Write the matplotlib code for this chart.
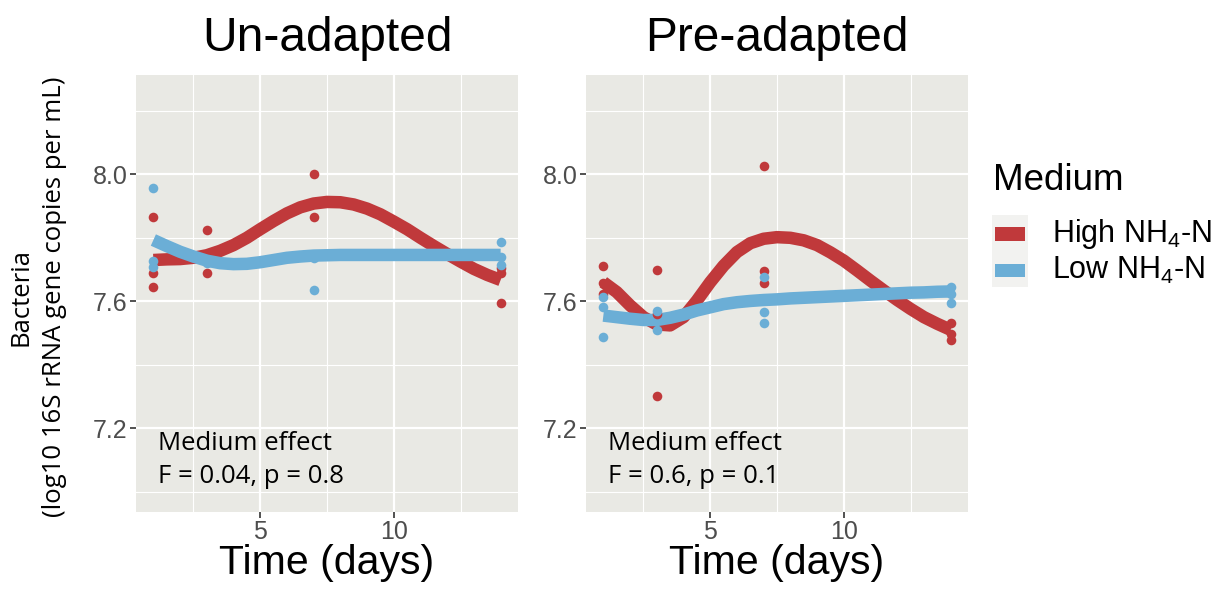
import matplotlib
matplotlib.use("Agg")
import matplotlib.pyplot as plt
from matplotlib.patches import Rectangle

plt.rcParams['font.family'] = ['Liberation Sans', 'DejaVu Sans']
plt.rcParams['mathtext.default'] = 'regular'

# Colours
RED = '#C0393B'
BLUE = '#6BAED6'
PANEL = '#E9E9E4'

# Observed points (day, log10 copies) - Un-adapted
un_high_days = [1, 1, 1, 3, 3, 7, 7, 14, 14, 14]
un_high_vals = [7.866, 7.688, 7.645, 7.824, 7.690, 8.000, 7.866, 7.704, 7.688, 7.596]
un_low_days = [1, 1, 1, 3, 7, 7, 14, 14, 14]
un_low_vals = [7.958, 7.727, 7.707, 7.720, 7.735, 7.636, 7.788, 7.739, 7.714]

# Pre-adapted
pre_high_days = [1, 1, 1, 3, 3, 3, 7, 7, 7, 14, 14, 14]
pre_high_vals = [7.712, 7.657, 7.623, 7.699, 7.560, 7.302, 8.027, 7.694, 7.657, 7.531, 7.497, 7.479]
pre_low_days = [1, 1, 1, 3, 3, 7, 7, 7, 14, 14, 14]
pre_low_vals = [7.615, 7.581, 7.487, 7.568, 7.508, 7.676, 7.566, 7.531, 7.644, 7.623, 7.595]

# Smoothed trend lines (every half day)
curve_days = [1, 1.5, 2, 2.5, 3, 3.5, 4, 4.5, 5, 5.5, 6, 6.5, 7, 7.5,
              8, 8.5, 9, 9.5, 10, 10.5, 11, 11.5, 12, 12.5, 13, 13.5, 14]
un_high_fit = [7.730, 7.732, 7.733, 7.737, 7.745, 7.759, 7.777, 7.800, 7.827,
               7.853, 7.877, 7.896, 7.908, 7.913, 7.912, 7.905, 7.892, 7.874,
               7.851, 7.827, 7.800, 7.774, 7.749, 7.725, 7.702, 7.683, 7.667]
un_low_fit = [7.793, 7.774, 7.756, 7.741, 7.728, 7.720, 7.717, 7.718, 7.723,
              7.730, 7.737, 7.741, 7.744, 7.745, 7.746, 7.746, 7.746, 7.746,
              7.746, 7.746, 7.746, 7.746, 7.746, 7.746, 7.746, 7.746, 7.746]
pre_high_fit = [7.660, 7.629, 7.587, 7.550, 7.527, 7.524, 7.550, 7.602, 7.660,
                7.712, 7.755, 7.783, 7.797, 7.802, 7.800, 7.792, 7.777, 7.754,
                7.728, 7.697, 7.665, 7.634, 7.604, 7.576, 7.550, 7.529, 7.510]
pre_low_fit = [7.555, 7.550, 7.545, 7.541, 7.541, 7.548, 7.558, 7.571, 7.581,
               7.591, 7.597, 7.601, 7.604, 7.606, 7.609, 7.611, 7.613, 7.615,
               7.617, 7.619, 7.621, 7.623, 7.625, 7.627, 7.628, 7.630, 7.631]

panels = [
    ("Un-adapted", un_high_days, un_high_vals, un_low_days, un_low_vals,
     un_high_fit, un_low_fit, "F = 0.04, p = 0.8"),
    ("Pre-adapted", pre_high_days, pre_high_vals, pre_low_days, pre_low_vals,
     pre_high_fit, pre_low_fit, "F = 0.6, p = 0.1"),
]

fig = plt.figure(figsize=(12.27, 5.95), dpi=100)
lefts = [136 / 1227, 586 / 1227]
annot_font = ['Open Sans', 'DejaVu Sans']

for left, (title, hd, hv, ld, lv, hfit, lfit, stat) in zip(lefts, panels):
    ax = fig.add_axes([left, 1 - 512 / 595, 382 / 1227, 437 / 595])
    ax.set_facecolor(PANEL)
    for s in ax.spines.values():
        s.set_visible(False)
    ax.set_xlim(0.35, 14.65)
    ax.set_ylim(6.936, 8.313)
    ax.set_xticks([5, 10])
    ax.set_xticks([2.5, 7.5, 12.5], minor=True)
    ax.set_yticks([7.2, 7.6, 8.0])
    ax.set_yticklabels(['7.2', '7.6', '8.0'])
    ax.set_yticks([7.0, 7.4, 7.8, 8.2], minor=True)
    ax.grid(which='major', color='white', lw=1.6)
    ax.grid(which='minor', color='white', lw=0.8)
    ax.set_axisbelow(True)
    ax.tick_params(which='major', length=4, width=1.2, color='#333333',
                   labelsize=18, labelcolor='#4D4D4D', pad=2)
    ax.tick_params(which='minor', length=0)

    ax.plot(curve_days, hfit, color=RED, lw=9, solid_capstyle='butt',
            solid_joinstyle='round', zorder=2)
    ax.plot(curve_days, lfit, color=BLUE, lw=9, solid_capstyle='butt',
            solid_joinstyle='round', zorder=3)
    ax.scatter(hd, hv, s=48, color=RED, lw=0, zorder=4)
    ax.scatter(ld, lv, s=48, color=BLUE, lw=0, zorder=4)

    ax.set_title(title, fontsize=34.5, pad=17)
    ax.set_xlabel('Time (days)', fontsize=29.5, labelpad=0)
    ax.text(0.058, 0.142, 'Medium effect', transform=ax.transAxes,
            family=annot_font, fontsize=18.5, va='baseline')
    ax.text(0.058, 0.066, stat, transform=ax.transAxes,
            family=annot_font, fontsize=18.5, va='baseline')

# y-axis label
fig.text(21 / 1227, 1 - 297 / 595, 'Bacteria', rotation=90, fontsize=18.5,
         family=annot_font, ha='center', va='center')
fig.text(55 / 1227, 1 - 297 / 595, '(log10 16S rRNA gene copies per mL)',
         rotation=90, fontsize=18.5, family=annot_font, ha='center', va='center')

# Legend
fig.text(993 / 1227, 1 - 190 / 595, 'Medium', fontsize=26.5, va='baseline')
fig.patches.append(Rectangle((992 / 1227, 1 - 287 / 595), 36 / 1227, 72 / 595,
                             transform=fig.transFigure, color='#F2F2F0', lw=0))
legend_items = [(RED, 'High NH$_4$-N'), (BLUE, 'Low NH$_4$-N')]
for i, (col, lab) in enumerate(legend_items):
    yc = 234 + i * 36
    fig.patches.append(Rectangle((995 / 1227, 1 - (yc + 6.5) / 595), 30 / 1227, 13 / 595,
                                 transform=fig.transFigure, color=col, lw=0))
    fig.text(1052 / 1227, 1 - yc / 595, lab, fontsize=22, va='center')

fig.savefig('out.png', dpi=100)
